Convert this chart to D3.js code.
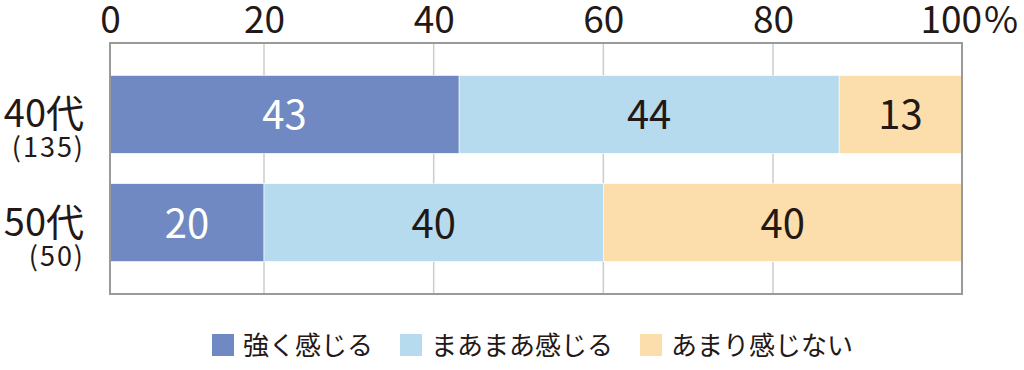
<!DOCTYPE html>
<html lang="ja">
<head>
<meta charset="utf-8">
<script src="https://cdn.jsdelivr.net/npm/d3@7"></script>
<style>
  body { margin: 0; background: #fff; }
  svg text { font-family: "Noto Sans CJK JP", "Noto Sans", sans-serif; fill: #231815; }
</style>
</head>
<body>
<svg id="chart" width="1024" height="370"></svg>
<script>
// data
const ageGroups = ['40代', '50代'];
const sampleSizes = ['(135)', '(50)'];
const seriesNames = ['強く感じる', 'まあまあ感じる', 'あまり感じない'];
const strongly = [43, 20];
const somewhat = [44, 40];
const notMuch = [13, 40];
const tickValues = [0, 20, 40, 60, 80, 100];

const seriesColors = ['#7089c2', '#b7dbee', '#fcdeac'];
const labelColors = ['#ffffff', '#231815', '#231815'];

const svg = d3.select('#chart');
const frame = { left: 110, right: 962, top: 43, bottom: 294 };

// the original grid is not evenly spaced, so use a piecewise scale
const x = d3.scaleLinear()
  .domain([0, 20, 80, 100])
  .range([frame.left, 264, 773, frame.right]);

const y = d3.scaleBand()
  .domain(ageGroups)
  .range([frame.top, frame.bottom])
  .paddingInner(0.28)
  .paddingOuter(0.3);

const rows = ageGroups.map((g, i) => ({
  group: g,
  [seriesNames[0]]: strongly[i],
  [seriesNames[1]]: somewhat[i],
  [seriesNames[2]]: notMuch[i]
}));
const stacked = d3.stack().keys(seriesNames)(rows);

// grid lines
svg.append('g')
  .selectAll('line')
  .data(tickValues.slice(1, -1))
  .join('line')
  .attr('x1', d => x(d)).attr('x2', d => x(d))
  .attr('y1', frame.top).attr('y2', frame.bottom)
  .attr('stroke', '#cccccc')
  .attr('stroke-width', 1.5);

// bars
const layers = svg.append('g')
  .selectAll('g')
  .data(stacked)
  .join('g')
  .attr('fill', (d, i) => seriesColors[i]);

layers.selectAll('rect')
  .data(d => d)
  .join('rect')
  .attr('x', d => x(d[0]))
  .attr('y', d => y(d.data.group))
  .attr('width', d => x(d[1]) - x(d[0]))
  .attr('height', y.bandwidth())
  .attr('stroke', '#ffffff')
  .attr('stroke-width', 0.6);

// value labels
layers.each(function (layer, li) {
  d3.select(this).selectAll('text')
    .data(layer)
    .join('text')
    .attr('x', d => (x(d[0]) + x(d[1])) / 2)
    .attr('y', d => y(d.data.group) + y.bandwidth() / 2 + 15)
    .attr('text-anchor', 'middle')
    .attr('font-size', 40)
    .style('fill', labelColors[li])
    .text(d => d[1] - d[0]);
});

// frame
svg.append('rect')
  .attr('x', frame.left).attr('y', frame.top)
  .attr('width', frame.right - frame.left)
  .attr('height', frame.bottom - frame.top)
  .attr('fill', 'none')
  .attr('stroke', '#9a9a9a')
  .attr('stroke-width', 2);

// top axis
const axis = svg.append('g')
  .attr('transform', 'translate(0,33)')
  .call(d3.axisTop(x).tickValues(tickValues).tickSize(0).tickPadding(0).tickFormat(d3.format('d')));
axis.select('.domain').remove();
axis.selectAll('text')
  .attr('font-size', 37)
  .style('fill', '#231815');
axis.selectAll('.tick')
  .filter(d => d === 100)
  .select('text')
  .attr('text-anchor', 'start')
  .attr('x', -42)
  .append('tspan')
  .attr('dx', 2)
  .text('%');

// category labels
const catLabels = svg.append('g');
catLabels.selectAll('text.group')
  .data(ageGroups)
  .join('text')
  .attr('class', 'group')
  .attr('x', 84)
  .attr('y', d => y(d) + y.bandwidth() / 2 + 13)
  .attr('text-anchor', 'end')
  .attr('font-size', 38)
  .text(d => d);
catLabels.selectAll('text.n')
  .data(ageGroups)
  .join('text')
  .attr('class', 'n')
  .attr('x', 85)
  .attr('y', (d, i) => y(d) + y.bandwidth() / 2 + 43)
  .attr('text-anchor', 'end')
  .attr('font-size', 27)
  .attr('letter-spacing', 2)
  .text((d, i) => sampleSizes[i]);

// legend
const legend = svg.append('g').attr('transform', 'translate(212,345)');
let lx = 0;
seriesNames.forEach((name, i) => {
  const item = legend.append('g').attr('transform', `translate(${lx},0)`);
  item.append('rect')
    .attr('x', 0).attr('y', -11)
    .attr('width', 22).attr('height', 22)
    .attr('fill', seriesColors[i]);
  const t = item.append('text')
    .attr('x', 31).attr('y', 10)
    .attr('font-size', 26)
    .text(name);
  lx += 31 + t.node().getComputedTextLength() + 27;
});
</script>
</body>
</html>
